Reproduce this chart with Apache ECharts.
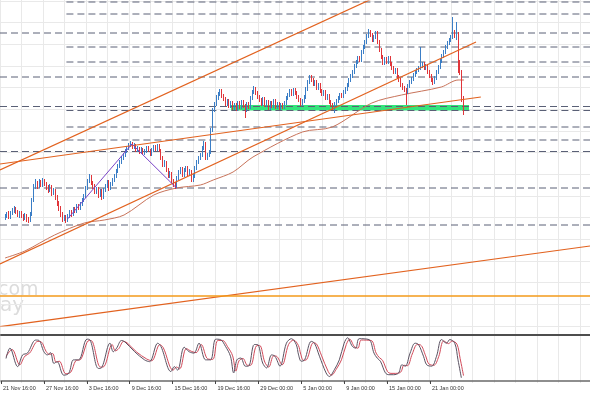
<!DOCTYPE html>
<html><head><meta charset="utf-8">
<script src="https://cdn.jsdelivr.net/npm/echarts@6/dist/echarts.min.js"></script>
<style>html,body{margin:0;padding:0;background:#fff}#c{width:590px;height:393px}</style>
</head><body><div id="c"></div>
<script>
// ---- data (price scale is arbitrary: no price axis is visible) ----
const firstBar = 3;           // bar position of the first candle on the time axis
const firstOpen = 1182;
const closes = [1184,1186,1183,1187,1189,1191,1188,1185,1187,1184,
1182,1185,1181,1180,1186,1200,1214,1217,1214,1218,
1215,1219,1216,1213,1210,1214,1207,1210,1203,1197,
1192,1186,1181,1183,1180,1184,1188,1186,1191,1189,
1194,1192,1196,1200,1204,1212,1219,1223,1217,1214,
1208,1211,1205,1209,1203,1210,1214,1218,1212,1216,
1220,1224,1229,1234,1238,1242,1245,1249,1252,1255,
1257,1253,1255,1250,1252,1248,1251,1247,1249,1252,
1250,1246,1250,1253,1251,1254,1250,1242,1235,1238,
1230,1224,1227,1219,1216,1214,1222,1228,1231,1225,
1230,1232,1226,1229,1220,1224,1232,1238,1242,1245,
1252,1256,1242,1245,1248,1270,1290,1296,1302,1306,
1309,1304,1301,1296,1299,1294,1297,1292,1295,1291,
1297,1293,1298,1294,1290,1296,1293,1302,1308,1311,
1307,1303,1300,1296,1301,1295,1298,1292,1297,1294,
1299,1293,1296,1292,1295,1293,1297,1302,1305,1309,
1306,1310,1307,1303,1300,1296,1299,1303,1311,1318,
1322,1320,1316,1318,1312,1315,1309,1306,1308,1302,
1304,1298,1295,1292,1296,1299,1302,1305,1304,1308,
1311,1315,1320,1324,1328,1334,1338,1342,1340,1348,
1353,1358,1364,1368,1365,1360,1363,1367,1358,1350,
1343,1337,1341,1338,1342,1336,1332,1328,1330,1323,
1320,1315,1312,1310,1308,1314,1318,1321,1325,1328,
1330,1332,1334,1336,1332,1334,1328,1324,1320,1318,
1322,1328,1333,1339,1344,1348,1353,1357,1360,1363,
1367,1365,1366,1332,1328,1302,1290];
const highs = [1186,1188,1189,1189,1192,1194,1193,1190,1189,1189,
1186,1187,1186,1183,1188,1202,1216,1221,1219,1221,
1220,1222,1221,1218,1215,1216,1215,1212,1211,1205,
1199,1194,1188,1185,1185,1186,1190,1190,1193,1193,
1196,1196,1198,1202,1206,1214,1221,1226,1225,1219,
1216,1213,1213,1211,1211,1212,1216,1220,1220,1218,
1222,1226,1231,1236,1240,1244,1247,1251,1254,1257,
1259,1258,1257,1256,1254,1253,1253,1252,1251,1254,
1254,1251,1252,1255,1255,1256,1256,1251,1244,1240,
1239,1232,1229,1228,1221,1218,1224,1230,1233,1233,
1232,1234,1234,1231,1230,1226,1234,1240,1244,1247,
1254,1259,1258,1247,1250,1272,1292,1298,1305,1308,
1311,1311,1306,1303,1301,1301,1299,1299,1297,1297,
1299,1299,1300,1300,1296,1298,1298,1304,1310,1314,
1313,1309,1305,1302,1303,1303,1300,1300,1299,1299,
1301,1301,1298,1298,1297,1297,1299,1304,1307,1311,
1311,1312,1312,1309,1305,1302,1301,1305,1313,1320,
1325,1325,1322,1320,1320,1317,1317,1311,1310,1310,
1306,1306,1300,1297,1298,1301,1304,1307,1307,1310,
1313,1317,1322,1326,1330,1336,1340,1344,1344,1350,
1355,1360,1366,1371,1370,1367,1365,1369,1369,1360,
1352,1345,1343,1343,1344,1344,1338,1334,1332,1332,
1325,1322,1317,1314,1312,1316,1320,1323,1327,1330,
1332,1334,1353,1338,1338,1336,1336,1330,1326,1322,
1324,1330,1335,1341,1346,1350,1355,1359,1362,1365,
1383,1370,1378,1368,1340,1330,1304];
const lows = [1180,1182,1181,1181,1185,1187,1186,1183,1182,1182,
1179,1180,1178,1177,1178,1184,1198,1211,1211,1212,
1213,1213,1214,1210,1207,1208,1204,1205,1200,1194,
1189,1183,1178,1179,1177,1178,1182,1183,1184,1187,
1187,1190,1190,1194,1198,1202,1210,1217,1215,1211,
1206,1206,1202,1203,1200,1201,1208,1212,1209,1210,
1214,1218,1222,1227,1232,1236,1240,1243,1247,1250,
1253,1251,1251,1248,1248,1246,1246,1245,1245,1247,
1248,1244,1244,1248,1249,1249,1248,1240,1233,1233,
1228,1222,1222,1217,1213,1211,1212,1220,1226,1223,
1223,1228,1224,1224,1218,1218,1222,1230,1236,1240,
1243,1250,1240,1240,1243,1246,1268,1288,1294,1300,
1304,1302,1299,1294,1294,1292,1292,1290,1290,1289,
1289,1291,1291,1292,1282,1288,1291,1291,1300,1306,
1305,1301,1298,1294,1294,1293,1293,1290,1290,1292,
1292,1291,1291,1290,1290,1291,1291,1295,1300,1303,
1304,1304,1305,1301,1298,1294,1294,1297,1301,1309,
1316,1318,1314,1314,1310,1310,1307,1304,1304,1300,
1300,1296,1293,1290,1287,1294,1297,1300,1302,1302,
1306,1309,1313,1318,1322,1326,1332,1336,1338,1338,
1346,1351,1356,1362,1363,1358,1358,1361,1356,1348,
1341,1335,1335,1336,1336,1334,1330,1326,1326,1321,
1318,1313,1310,1308,1295,1306,1312,1316,1319,1323,
1326,1328,1330,1332,1330,1330,1326,1322,1318,1315,
1316,1320,1326,1331,1337,1342,1346,1351,1355,1358,
1361,1362,1360,1327,1325,1298,1285];

const tickLabels = ['21 Nov 16:00','27 Nov 16:00','3 Dec 16:00','9 Dec 16:00','15 Dec 16:00',
  '19 Dec 16:00','29 Dec 00:00','5 Jan 00:00','9 Jan 00:00','15 Jan 00:00','21 Jan 00:00'];

const levelsFull = [1367,1323,1293.5,1248.5,1212,1175];
const levelsPartial = [1398,1386,1353,1338,1289.5,1273,1260];
const partialStart = 37.1;
const bandX = [129,262];
const bandY = [1289.5,1295];
const trendLines = [
  [[0,1230],[210,1403]],
  [[0,1236],[268.6,1303]],
  [[0,1136],[265.9,1358]],
  [[0,1073.3],[329.57,1154]]
];
const horizLevel = 1104;
const zigzag = [[37.7,1181],[73.7,1256],[98.6,1212]];
const maPoints = [[2.8,1142],[13.9,1149],[30.5,1165],[47.1,1177],[58.2,1180],[69.3,1185],[85.9,1205],
  [98.6,1212],[111.9,1215],[119.1,1220],[130.2,1228],[141.3,1243],[168.9,1268],[185.6,1273],
  [207.7,1297],[224.3,1305],[246.5,1313],[255.9,1320],[259.2,1320]];
const stochMain = [[2.8,50],[5.0,73],[9.3,32],[12.1,58],[14.8,62],[19.4,91],[21.3,90],[24.0,65],[25.9,58],[27.7,63],
  [29.6,39],[31.4,43],[35.1,13],[37.9,17],[40.6,47],[43.4,47],[48.1,93],[49.9,91],[54.5,28],[56.4,30],
  [61.0,84],[62.8,65],[64.7,73],[67.4,90],[69.3,87],[74.8,65],[80.3,47],[83.1,43],[87.7,84],[89.6,76],
  [95.1,21],[97.0,32],[98.8,24],[102.5,75],[105.3,65],[108.0,62],[110.8,84],[114.5,47],[117.3,47],[120.1,93],
  [122.8,92],[125.6,77],[128.4,55],[130.2,18],[132.0,47],[134.2,51],[136.7,33],[138.5,33],[141.7,81],[143.5,81],
  [146.4,40],[148.6,29],[151.4,58],[153.3,55],[156.1,33],[159.7,84],[162.5,94],[165.2,81],[166.5,58],[168.0,44],
  [169.9,47],[173.6,88],[175.4,84],[178.2,55],[181.9,18],[183.7,10],[186.5,25],[189.3,47],[192.0,84],[193.9,96],
  [196.6,77],[198.5,73],[200.4,94],[205.9,92],[208.7,62],[210.5,51],[212.3,44],[215.1,18],[217.0,14],[219.7,14],
  [222.5,18],[224.3,36],[226.2,33],[228.9,62],[231.7,84],[233.6,81],[236.4,55],[238.2,36],[241.0,33],[243.7,55],
  [246.5,92],[249.3,84],[251.1,92],[253.9,84],[255.7,47],[257.6,7]];
const stochSignal = [[2.8,55],[6.2,70],[10.5,36],[13.3,55],[16.0,62],[20.6,88],[22.5,87],[25.2,66],[27.1,59],[28.9,61],
  [30.8,42],[32.6,44],[36.3,16],[39.1,20],[41.8,45],[44.6,48],[49.3,90],[51.1,88],[55.7,31],[57.6,32],
  [62.2,81],[64.0,67],[65.9,72],[68.6,88],[70.5,85],[76.0,64],[81.5,49],[84.3,45],[88.9,81],[90.8,74],
  [96.3,24],[98.2,31],[100.0,27],[103.7,72],[106.5,66],[109.2,63],[112.0,81],[115.7,49],[118.5,48],[121.3,90],
  [124.0,90],[126.8,76],[129.6,56],[131.4,22],[133.2,45],[135.4,50],[137.9,35],[139.7,35],[142.9,78],[144.7,79],
  [147.6,42],[149.8,31],[152.6,56],[154.5,54],[157.3,36],[160.9,81],[163.7,91],[166.4,79],[167.7,60],[169.2,46],
  [171.1,48],[174.8,85],[176.6,82],[179.4,56],[183.1,21],[184.9,13],[187.7,27],[190.5,47],[193.2,81],[195.1,93],
  [197.8,76],[199.7,73],[201.6,91],[207.1,90],[209.9,62],[211.7,52],[213.5,46],[216.3,21],[218.2,17],[220.9,17],
  [223.7,20],[225.5,35],[227.4,34],[230.1,60],[232.9,81],[234.8,80],[237.6,56],[239.4,38],[242.2,35],[244.9,54],
  [247.7,89],[250.5,83],[252.3,89],[255.1,82],[256.9,50],[258.8,12]];

// ---- build ----
const XMAX = 329.57;
const ohlc = closes.map((c, i) => [firstBar + i, i === 0 ? firstOpen : closes[i - 1], c, lows[i], highs[i]]);
const labelTicks = tickLabels.map((t, k) => k * 24);

const series = [];
series.push({type:'line', xAxisIndex:3, yAxisIndex:3, data:[], silent:true});
const dashStyle = {color:'#5a6076', width:1, type:[7,4]};
levelsFull.forEach(p => series.push({type:'line', xAxisIndex:0, yAxisIndex:0, data:[[0,p],[XMAX,p]],
  symbol:'none', silent:true, z:1, lineStyle:dashStyle}));
levelsPartial.forEach(p => series.push({type:'line', xAxisIndex:0, yAxisIndex:0, data:[[partialStart,p],[XMAX,p]],
  symbol:'none', silent:true, z:1, lineStyle:dashStyle}));
series.push({type:'line', xAxisIndex:0, yAxisIndex:0, data:[], symbol:'none', silent:true, z:1,
  markArea:{silent:true, itemStyle:{color:'#34e47b', opacity:1},
    data:[[{coord:[bandX[0], bandY[0]]},{coord:[bandX[1], bandY[1]]}]]}});
series.push({type:'line', xAxisIndex:0, yAxisIndex:0, data:maPoints, symbol:'none', smooth:0.3, z:2,
  lineStyle:{color:'#c8735a', width:1}});
series.push({type:'candlestick', xAxisIndex:0, yAxisIndex:0, data:ohlc, barWidth:1, z:3,
  itemStyle:{color:'#3b7ec6', color0:'#e0353a', borderColor:'#3b7ec6', borderColor0:'#e0353a', borderWidth:1,
    borderColorDoji:'#3b7ec6'}});
trendLines.forEach(tl => series.push({type:'line', xAxisIndex:0, yAxisIndex:0, data:tl, symbol:'none', z:4,
  lineStyle:{color:'#e2621f', width:1.2}}));
series.push({type:'line', xAxisIndex:0, yAxisIndex:0, data:[[0,horizLevel],[XMAX,horizLevel]], symbol:'none', z:4,
  lineStyle:{color:'#f39a1a', width:1.6}});
series.push({type:'line', xAxisIndex:0, yAxisIndex:0, data:zigzag, symbol:'none', z:4,
  lineStyle:{color:'#7a44c8', width:1}});
series.push({type:'line', xAxisIndex:1, yAxisIndex:2, data:stochSignal, symbol:'none', smooth:0.35, z:3,
  lineStyle:{color:'#d24a5a', width:1}});
series.push({type:'line', xAxisIndex:1, yAxisIndex:2, data:stochMain, symbol:'none', smooth:0.35, z:4,
  lineStyle:{color:'#5a5262', width:1}});

const chart = echarts.init(document.getElementById('c'), null, {renderer:'canvas'});
chart.setOption({
  animation:false,
  backgroundColor:'#ffffff',
  textStyle:{fontFamily:'Liberation Sans'},
  grid:[
    {left:-5.07, right:0, top:1, height:325},
    {left:-5.07, right:0, top:335, height:48},
    {left:-5.07, right:0, top:0, height:383}
  ],
  xAxis:[
    {type:'value', gridIndex:0, min:0, max:XMAX, show:false},
    {type:'value', gridIndex:1, min:0, max:XMAX, interval:24, position:'bottom',
      axisLine:{show:true, lineStyle:{color:'#6a6a6a', width:1.5}},
      axisTick:{show:true, length:3, customValues:labelTicks, lineStyle:{color:'#444'}},
      splitLine:{show:false},
      axisLabel:{show:true, fontSize:5.5, color:'#333', align:'left', margin:2, padding:[0,0,0,2],
        showMaxLabel:false,
        formatter:(v)=>{const k=Math.round(v/24); return (Math.abs(v-k*24)<0.01 && tickLabels[k]) ? tickLabels[k] : '';}}},
    {type:'value', gridIndex:1, min:0, max:XMAX, position:'top',
      axisLine:{show:true, lineStyle:{color:'#4e4e4e', width:2}},
      axisTick:{show:false}, axisLabel:{show:false}, splitLine:{show:false}},
    {type:'value', gridIndex:2, min:0, max:XMAX, interval:12,
      axisLine:{show:false}, axisTick:{show:false}, axisLabel:{show:false},
      splitLine:{show:true, lineStyle:{color:'#e9e9e9', width:1}}}
  ],
  yAxis:[
    {type:'value', gridIndex:0, min:1074, max:1399, show:false},
    {type:'value', gridIndex:0, min:0, max:15, interval:1,
      axisLine:{show:false}, axisTick:{show:false}, axisLabel:{show:false},
      splitLine:{show:true, lineStyle:{color:'#e9e9e9', width:1}}},
    {type:'value', gridIndex:1, min:-4.4, max:102.2, show:false},
    {type:'value', gridIndex:2, min:0, max:1, show:false}
  ],
  graphic:[
    {type:'text', left:-2, top:281, silent:true, z:0,
      style:{text:'com', fontSize:19, fontFamily:'DejaVu Sans', fill:'#dcdcdc'}},
    {type:'text', left:0, top:296, silent:true, z:0,
      style:{text:'ay', fontSize:20, fontFamily:'DejaVu Sans', fill:'#dcdcdc'}}
  ],
  series
});
</script>
</body></html>
